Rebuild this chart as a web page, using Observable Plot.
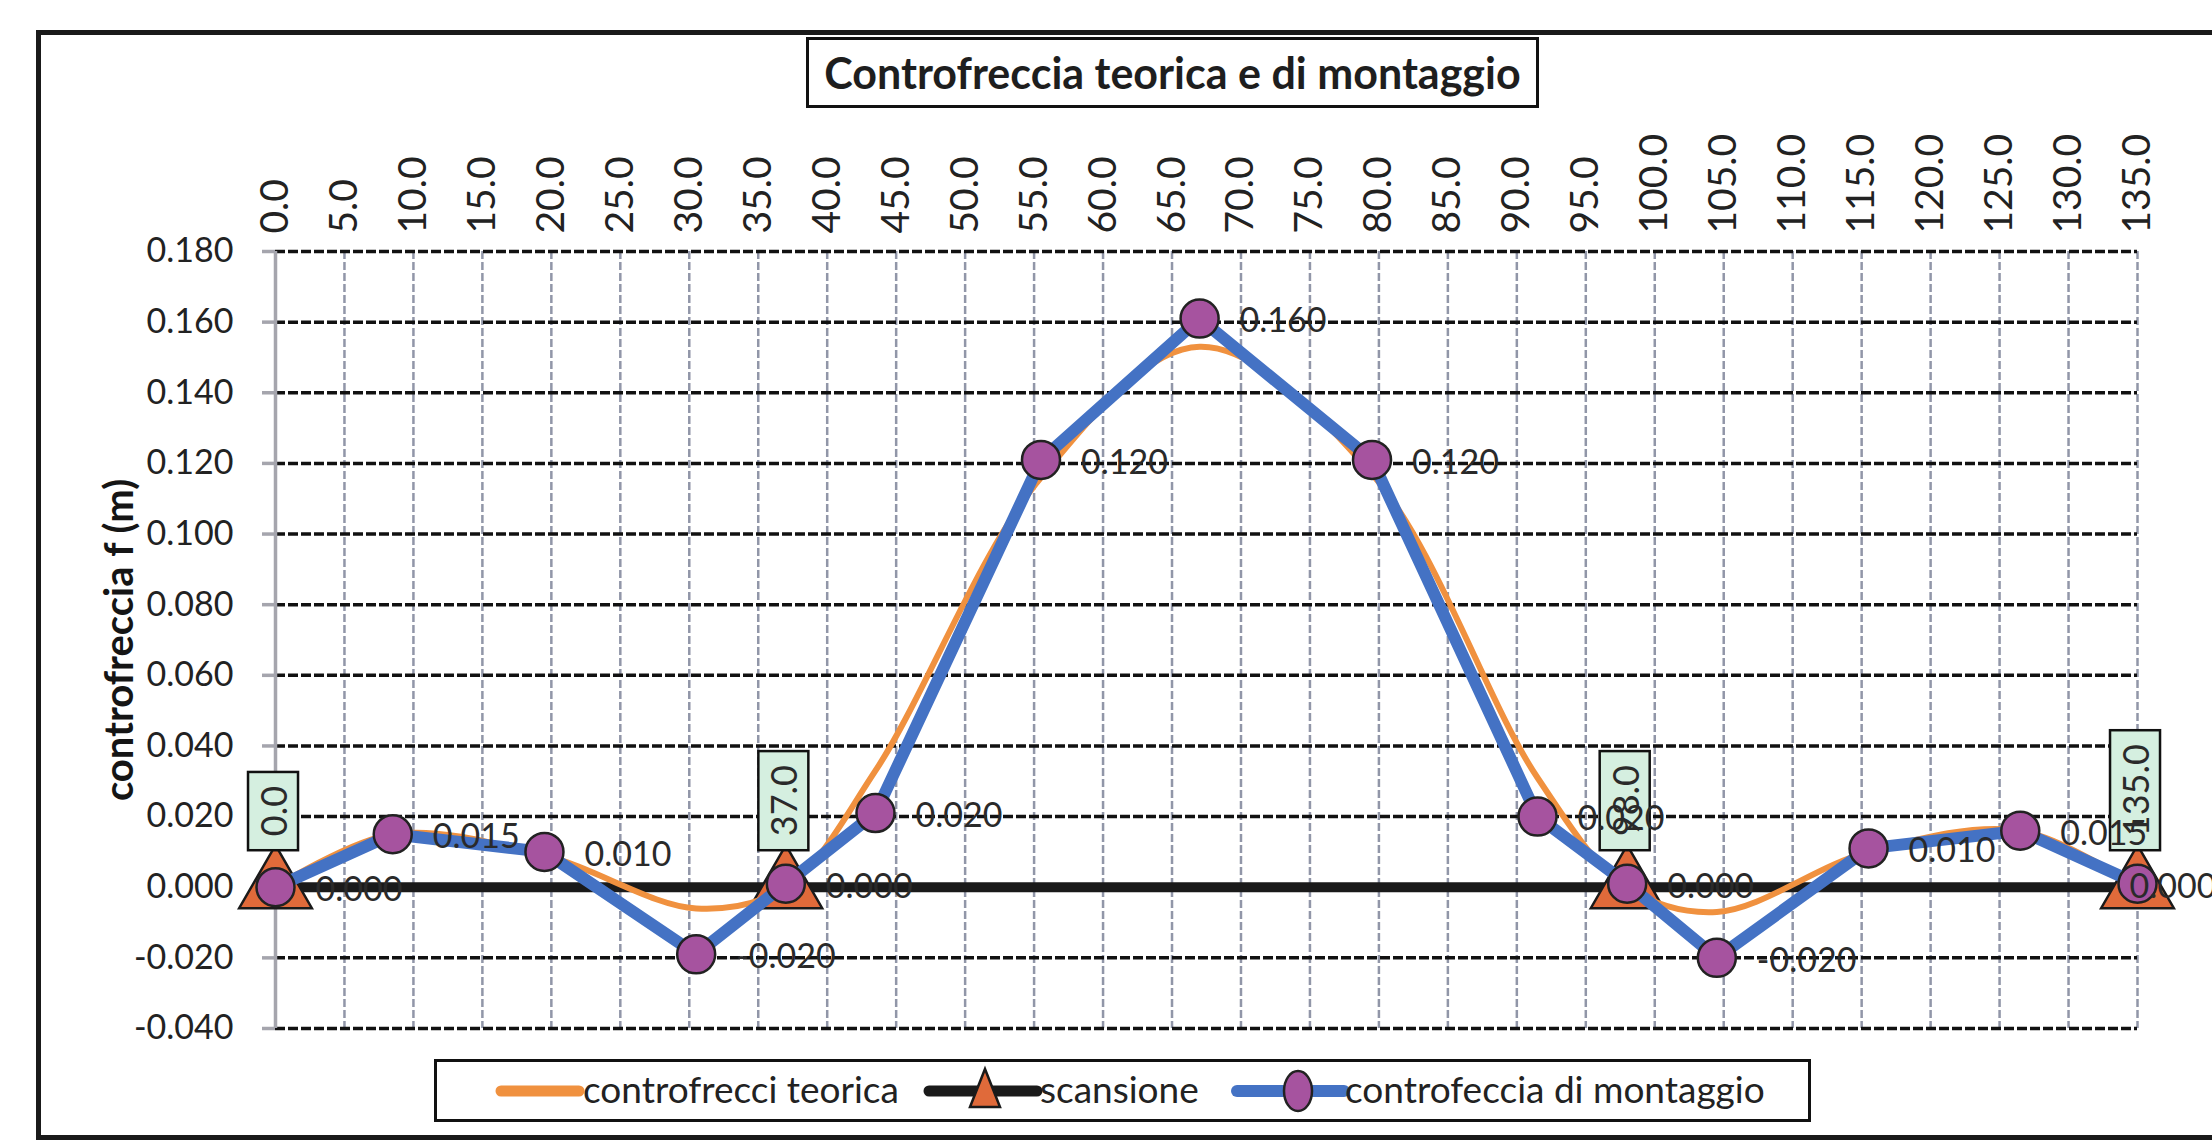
<!DOCTYPE html>
<html><head><meta charset="utf-8">
<script src="https://cdn.jsdelivr.net/npm/d3@7"></script>
<script src="https://cdn.jsdelivr.net/npm/@observablehq/plot@0.6"></script>
<style>
html,body{margin:0;padding:0;background:#fff;}
body{width:2212px;height:1145px;overflow:hidden;position:relative;font-family:Lato,"Open Sans",sans-serif;color:#2a2a2a;}
#frame{position:absolute;left:36px;top:30px;width:2220px;height:1100px;border:5px solid #1a1a1a;}
#chart{position:absolute;left:0;top:0;}
#title{position:absolute;left:806px;top:37px;width:727px;height:65px;border:3px solid #111;background:#fff;display:flex;align-items:center;justify-content:center;font-weight:700;font-size:43px;color:#1e1e1e;}
#legend{position:absolute;left:434px;top:1059px;width:1371px;height:57px;border:3px solid #111;background:#fff;}
#legend .t{position:absolute;top:5px;font-size:37px;line-height:44px;color:#222;white-space:nowrap;}
</style>
</head><body>
<div id="frame"></div>
<div id="chart"></div>
<div id="title">Controfreccia teorica e di montaggio</div>
<div id="legend">
  <svg width="1371" height="57" style="position:absolute;left:0;top:0">
    <line x1="64" x2="142" y1="29" y2="29" stroke="#f0913f" stroke-width="11" stroke-linecap="round"/>
    <line x1="492" x2="600" y1="29" y2="29" stroke="#1a1a1a" stroke-width="11" stroke-linecap="round"/>
    <path d="M548,7 L563,45 L533,45 Z" fill="#e06a3a" stroke="#1a1a1a" stroke-width="2.5"/>
    <line x1="800" x2="907" y1="29" y2="29" stroke="#4472c4" stroke-width="12" stroke-linecap="round"/>
    <ellipse cx="861" cy="29" rx="14" ry="20" fill="#a6539f" stroke="#222" stroke-width="2.5"/>
  </svg>
  <div class="t" style="left:146px">controfrecci teorica</div>
  <div class="t" style="left:603px">scansione</div>
  <div class="t" style="left:908px">controfeccia di montaggio</div>
</div>
<script>
// ---- data ----
const xTicks = [0,5,10,15,20,25,30,35,40,45,50,55,60,65,70,75,80,85,90,95,100,105,110,115,120,125,130,135];
const yTicks = [-0.04,-0.02,0,0.02,0.04,0.06,0.08,0.10,0.12,0.14,0.16,0.18];
const stations = [0, 8.5, 19.5, 30.5, 37, 43.5, 55.5, 67, 79.5, 91.5, 98, 104.5, 115.5, 126.5, 135];
const montaggio = [0, 0.015, 0.010, -0.019, 0.001, 0.021, 0.121, 0.161, 0.121, 0.020, 0.001, -0.020, 0.011, 0.016, 0.001];
const montaggioLabels = ["0.000","0.015","0.010","-0.020","0.000","0.020","0.120","0.160","0.120","0.020","0.000","-0.020","0.010","0.015","0.000"];
const teorica = [0, 0.015, 0.009, -0.006, 0, 0.033, 0.116, 0.153, 0.117, 0.031, 0, -0.007, 0.010, 0.016, 0];
const scansioneX = [0, 37, 98, 135];
const scansioneY = [0, 0, 0, 0];
const scansioneLabels = ["0.0","37.0","98.0","135.0"];

const blue = stations.map((x,i)=>({x, y: montaggio[i], label: montaggioLabels[i]}));
const orange = stations.map((x,i)=>({x, y: teorica[i]}));
const scan = scansioneX.map((x,i)=>({x, y: scansioneY[i], label: scansioneLabels[i]}));

const font = "Lato, 'Open Sans', sans-serif";
const chart = Plot.plot({
  width: 2212, height: 1145,
  marginLeft: 275, marginRight: 75, marginTop: 251, marginBottom: 117,
  x: {domain: [0, 135]},
  y: {domain: [-0.04, 0.18]},
  style: {fontFamily: font, background: "transparent", color: "#2a2a2a", overflow: "visible"},
  marks: [
    Plot.gridX(xTicks, {stroke: "#9196a8", strokeOpacity: 1, strokeWidth: 2.5, strokeDasharray: "8,3"}),
    Plot.gridY(yTicks, {stroke: "#111", strokeOpacity: 1, strokeWidth: 3.5, strokeDasharray: "10,3"}),
    Plot.ruleX([0], {stroke: "#a5a5ad", strokeWidth: 3.5}),
    Plot.axisY(yTicks, {tickFormat: d => d.toFixed(3), tickSize: 13, tickPadding: 29, fontSize: 34, stroke: "#a5a5ad", strokeWidth: 3.5, fill: "#222", label: null}),
    Plot.axisX(xTicks, {anchor: "top", tickFormat: d => d.toFixed(1), tickRotate: -90, tickSize: 0, tickPadding: 18, fontSize: 39, fill: "#222", label: null}),
    Plot.text(["controfreccia f (m)"], {text: d => d, frameAnchor: "left", textAnchor: "middle", dx: -155, rotate: -90, fontSize: 40, fontWeight: "bold", fill: "#151515"}),
    // scansione
    Plot.line(scan, {x: "x", y: "y", stroke: "#1a1a1a", strokeWidth: 10}),
    Plot.dot(scan, {x: "x", y: "y", symbol: "triangle", r: 27, fill: "#e06a3a", stroke: "#1a1a1a", strokeWidth: 2.5}),
    // teorica
    Plot.line(orange, {x: "x", y: "y", curve: "catmull-rom", stroke: "#f0913f", strokeWidth: 6}),
    // montaggio
    Plot.line(blue, {x: "x", y: "y", stroke: "#4472c4", strokeWidth: 12}),
    Plot.dot(blue, {x: "x", y: "y", r: 19, fill: "#a6539f", stroke: "#222", strokeWidth: 2.5}),
    Plot.text(scan, {x: "x", y: "y", text: "label", rotate: -90, textAnchor: "start", lineAnchor: "middle", dy: -51, fontSize: 36, fill: "#2a2a2a", ariaDescription: "scanlabels"}),
    Plot.text(blue.slice(0, 14), {x: "x", y: "y", text: "label", textAnchor: "start", dx: 40, dy: 3, fontSize: 34, fill: "#2a2a2a"}),
    Plot.text(blue.slice(14), {x: "x", y: "y", text: "label", textAnchor: "start", dx: -8, dy: 3, fontSize: 34, fill: "#2a2a2a"})
  ]
});
document.getElementById("chart").appendChild(chart);

// boxes behind the scansione labels
d3.select(chart).selectAll('g[aria-description="scanlabels"] text').each(function() {
  const bb = this.getBBox();
  const padX = 14, padY = 3;
  const r = document.createElementNS("http://www.w3.org/2000/svg", "rect");
  r.setAttribute("x", bb.x - padX);
  r.setAttribute("y", bb.y - padY);
  r.setAttribute("width", bb.width + 2 * padX);
  r.setAttribute("height", bb.height + 2 * padY);
  r.setAttribute("fill", "#d5efe0");
  r.setAttribute("stroke", "#111");
  r.setAttribute("stroke-width", "2.5");
  const t = this.getAttribute("transform");
  if (t) r.setAttribute("transform", t);
  this.parentNode.insertBefore(r, this);
});
</script>
</body></html>
